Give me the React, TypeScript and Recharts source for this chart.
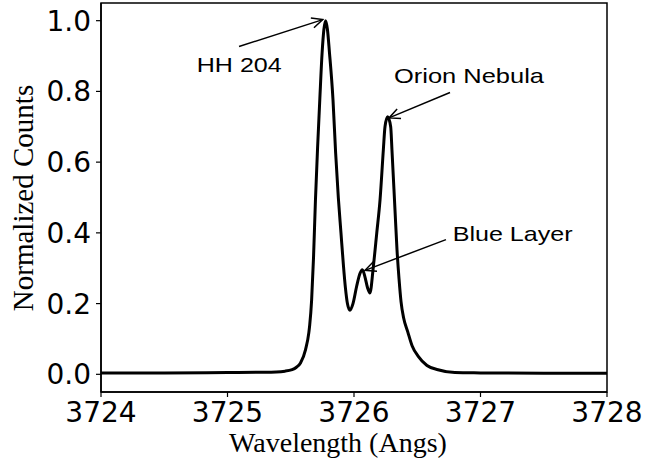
import React from 'react';
import { LineChart, Line, XAxis, YAxis, ReferenceLine, ReferenceDot, ReferenceArea } from 'recharts';

// Wavelength samples (Angstrom)
const wavelengths = [
  3724.0, 3724.5, 3725.0, 3725.3, 3725.455, 3725.511, 3725.545, 3725.577, 3725.617, 3725.643,
  3725.650, 3725.665, 3725.680, 3725.695, 3725.712, 3725.730, 3725.748, 3725.762, 3725.776, 3725.790,
  3725.806, 3725.834, 3725.855, 3725.876, 3725.897, 3725.916, 3725.932, 3725.948, 3725.968, 3725.992,
  3726.021, 3726.047, 3726.066, 3726.087, 3726.107, 3726.126, 3726.153, 3726.180, 3726.206, 3726.232,
  3726.245, 3726.266, 3726.290, 3726.300, 3726.324, 3726.340, 3726.356, 3726.372, 3726.392, 3726.425,
  3726.460, 3726.508, 3726.577, 3726.664, 3726.798, 3727.0, 3727.5, 3728.0,
];
// Normalized counts at those wavelengths
const counts = [
  0.004, 0.004, 0.005, 0.006, 0.009, 0.013, 0.020, 0.032, 0.070, 0.118,
  0.140, 0.210, 0.330, 0.490, 0.640, 0.780, 0.910, 0.975, 1.000, 0.975,
  0.910, 0.776, 0.625, 0.500, 0.400, 0.310, 0.245, 0.200, 0.181, 0.200,
  0.249, 0.285, 0.296, 0.275, 0.245, 0.230, 0.305, 0.400, 0.494, 0.635,
  0.700, 0.728, 0.700, 0.635, 0.465, 0.352, 0.270, 0.205, 0.160, 0.120,
  0.080, 0.051, 0.025, 0.013, 0.005, 0.004, 0.003, 0.003,
];

const xTicks = [3724, 3725, 3726, 3727, 3728];
const yTicks = [0.0, 0.2, 0.4, 0.6, 0.8, 1.0];

// Annotations (data coordinates)
const annotationLabels = ['HH 204', 'Orion Nebula', 'Blue Layer'];
const arrowTails = [
  { x: 3725.091, y: 0.927 },
  { x: 3726.759, y: 0.797 },
  { x: 3726.727, y: 0.381 },
];
const arrowHeads = [
  { x: 3725.753, y: 1.003 },
  { x: 3726.277, y: 0.725 },
  { x: 3726.087, y: 0.294 },
];
const labelPositions = [
  { x: 3724.757, y: 0.856 },
  { x: 3726.316, y: 0.823 },
  { x: 3726.780, y: 0.376 },
];
const labelWidths = [85, 150, 120];

const data = wavelengths.map((w, i) => ({ w, c: counts[i] }));

const Arrow = (props: any) => {
  const { x1, y1, x2, y2 } = props;
  const dx = x2 - x1;
  const dy = y2 - y1;
  const len = Math.sqrt(dx * dx + dy * dy) || 1;
  const ux = dx / len;
  const uy = dy / len;
  const h = 12;
  const a = (25 * Math.PI) / 180;
  const cos = Math.cos(a);
  const sin = Math.sin(a);
  const lx = x2 - h * (ux * cos - uy * sin);
  const ly = y2 - h * (uy * cos + ux * sin);
  const rx = x2 - h * (ux * cos + uy * sin);
  const ry = y2 - h * (uy * cos - ux * sin);
  return (
    <g>
      <line x1={x1} y1={y1} x2={x2} y2={y2} stroke="#000" strokeWidth={1.5} />
      <polyline points={`${lx},${ly} ${x2},${y2} ${rx},${ry}`} fill="none" stroke="#000" strokeWidth={1.5} />
    </g>
  );
};

const makeLabelShape = (text: string, width: number) => (props: any) => (
  <text
    x={props.cx}
    y={props.cy}
    fontSize={21}
    fontFamily="Liberation Sans, Arial, sans-serif"
    fill="#000"
    textLength={width}
    lengthAdjust="spacingAndGlyphs"
  >
    {text}
  </text>
);

const YLabel = () => (
  <text
    x={33}
    y={198}
    transform="rotate(-90 33 198)"
    textAnchor="middle"
    fontSize={29}
    fontFamily="Liberation Serif, Times New Roman, serif"
    fill="#000"
  >
    Normalized Counts
  </text>
);

const XLabel = () => (
  <text
    x={338}
    y={452}
    textAnchor="middle"
    fontSize={28}
    fontFamily="Liberation Serif, Times New Roman, serif"
    fill="#000"
  >
    Wavelength (Angs)
  </text>
);

export default function App() {
  return (
    <div style={{ position: 'absolute', left: 0, top: 0, background: '#fff' }}>
      <LineChart width={668} height={466} data={data} margin={{ top: 3, right: 61, bottom: 0, left: 0 }}>
        <XAxis
          dataKey="w"
          type="number"
          domain={[3724, 3728]}
          ticks={xTicks}
          allowDataOverflow
          height={74}
          tickSize={5}
          tickMargin={5}
          axisLine={{ stroke: '#000', strokeWidth: 1.5 }}
          tickLine={{ stroke: '#000', strokeWidth: 1.2 }}
          tick={{ fontSize: 28, fontFamily: 'DejaVu Sans', fill: '#000' }}
          label={<XLabel />}
        />
        <YAxis
          type="number"
          domain={[-0.05, 1.05]}
          ticks={yTicks}
          allowDataOverflow
          width={101}
          tickSize={5}
          tickMargin={5}
          tickFormatter={(v: number) => v.toFixed(1)}
          axisLine={{ stroke: '#000', strokeWidth: 1.5 }}
          tickLine={{ stroke: '#000', strokeWidth: 1.2 }}
          tick={{ fontSize: 28, fontFamily: 'DejaVu Sans', fill: '#000' }}
          label={<YLabel />}
        />
        <ReferenceArea x1={3724} x2={3728} y1={-0.05} y2={1.05} fill="none" stroke="#000" strokeWidth={1.5} />
        <Line dataKey="c" type="monotone" stroke="#000" strokeWidth={3} dot={false} isAnimationActive={false} />
        {annotationLabels.map((lab, i) => (
          <ReferenceLine
            key={`arrow-${lab}`}
            segment={[arrowTails[i], arrowHeads[i]]}
            shape={Arrow}
          />
        ))}
        {annotationLabels.map((lab, i) => (
          <ReferenceDot
            key={`label-${lab}`}
            x={labelPositions[i].x}
            y={labelPositions[i].y}
            r={0}
            shape={makeLabelShape(lab, labelWidths[i])}
          />
        ))}
      </LineChart>
    </div>
  );
}
